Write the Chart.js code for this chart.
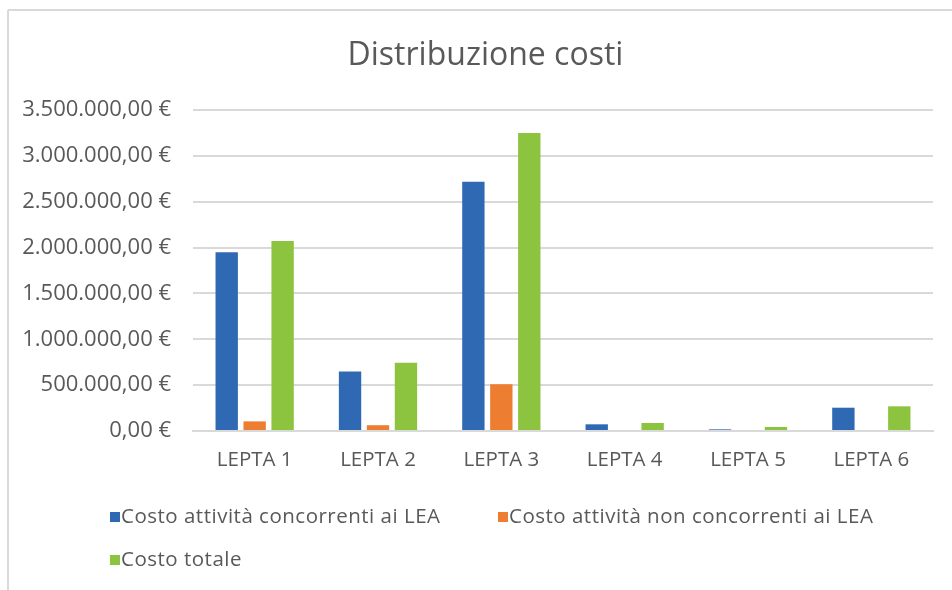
<!DOCTYPE html>
<html>
<head>
<meta charset="utf-8">
<script src="https://cdn.jsdelivr.net/npm/chart.js@4.4.1/dist/chart.umd.min.js"></script>
<style>
  html, body { margin: 0; padding: 0; background: #fff; }
  #wrap { position: relative; width: 952px; height: 590px; }
  canvas { position: absolute; left: 0; top: 0; }
  .lg { position: absolute; font-family: "Open Sans", sans-serif; font-size: 20.5px; color: #595959; white-space: nowrap; line-height: 24px; letter-spacing: 0.5px; }
  .lg span.box { display: inline-block; width: 10px; height: 10px; margin-right: 1px; vertical-align: 1px; }
</style>
</head>
<body>
<div id="wrap">
  <canvas id="c" width="952" height="590"></canvas>
  <div id="legend"></div>
</div>
<script>
const categories = ['LEPTA 1', 'LEPTA 2', 'LEPTA 3', 'LEPTA 4', 'LEPTA 5', 'LEPTA 6'];
const seriesNames = ['Costo attività concorrenti ai LEA', 'Costo attività non concorrenti ai LEA', 'Costo totale'];
const costoConcorrenti = [1950000, 648000, 2718000, 73000, 18000, 254000];
const costoNonConcorrenti = [105000, 63000, 510000, 0, 0, 0];
const costoTotale = [2072000, 743000, 3250000, 87000, 44000, 269000];
const yTickValues = [0, 500000, 1000000, 1500000, 2000000, 2500000, 3000000, 3500000];
const yTickLabels = ['0,00 €', '500.000,00 €', '1.000.000,00 €', '1.500.000,00 €', '2.000.000,00 €', '2.500.000,00 €', '3.000.000,00 €', '3.500.000,00 €'];
const titleText = 'Distribuzione costi';

const colors = ['#2F69B3', '#ED7D31', '#8CC43F'];
const seriesData = [costoConcorrenti, costoNonConcorrenti, costoTotale];

const frame = {
  id: 'frame',
  beforeDraw(chart) {
    const ctx = chart.ctx;
    ctx.save();
    ctx.strokeStyle = '#d9d9d9';
    ctx.lineWidth = 2;
    ctx.beginPath();
    ctx.moveTo(8, 10); ctx.lineTo(952, 10);
    ctx.moveTo(8, 10); ctx.lineTo(8, 590);
    ctx.stroke();
    ctx.restore();
  },
  afterDraw(chart) {
    const ctx = chart.ctx;
    ctx.save();
    ctx.fillStyle = '#595959';
    ctx.font = '32px "Open Sans"';
    ctx.textAlign = 'center';
    ctx.textBaseline = 'middle';
    ctx.fillText(titleText, 485.5, 56);
    ctx.restore();
  }
};

new Chart(document.getElementById('c'), {
  type: 'bar',
  data: {
    labels: categories,
    datasets: seriesData.map((d, i) => ({
      label: seriesNames[i],
      data: d,
      backgroundColor: colors[i],
      borderWidth: 0,
      categoryPercentage: 0.68,
      barPercentage: 0.8
    }))
  },
  options: {
    responsive: false,
    animation: false,
    layout: { padding: { left: 0, right: 19, top: 110, bottom: 0 } },
    plugins: {
      legend: { display: false },
      tooltip: { enabled: false },
      title: { display: false }
    },
    scales: {
      x: {
        grid: { display: false, drawTicks: false },
        border: { display: true, color: '#d9d9d9', width: 2 },
        ticks: { color: '#595959', font: { family: 'Open Sans', size: 20.5 }, padding: 17 },
        afterFit(s) { s.height = 159; }
      },
      y: {
        min: 0, max: 3500000,
        afterBuildTicks(s) { s.ticks = yTickValues.map(v => ({ value: v })); },
        grid: { color: '#d9d9d9', lineWidth: 2, drawTicks: false },
        border: { display: false },
        ticks: {
          color: '#595959',
          font: { family: 'Open Sans', size: 22 },
          padding: 22,
          callback: (v) => yTickLabels[yTickValues.indexOf(v)]
        },
        afterFit(s) { s.width = 193; }
      }
    }
  },
  plugins: [frame]
});

const legendPos = [[110, 503], [498, 503], [110, 546]];
const lg = document.getElementById('legend');
seriesNames.forEach((n, i) => {
  const d = document.createElement('div');
  d.className = 'lg';
  d.style.left = legendPos[i][0] + 'px';
  d.style.top = legendPos[i][1] + 'px';
  d.innerHTML = '<span class="box" style="background:' + colors[i] + '"></span>';
  d.appendChild(document.createTextNode(n));
  lg.appendChild(d);
});
</script>
</body>
</html>
